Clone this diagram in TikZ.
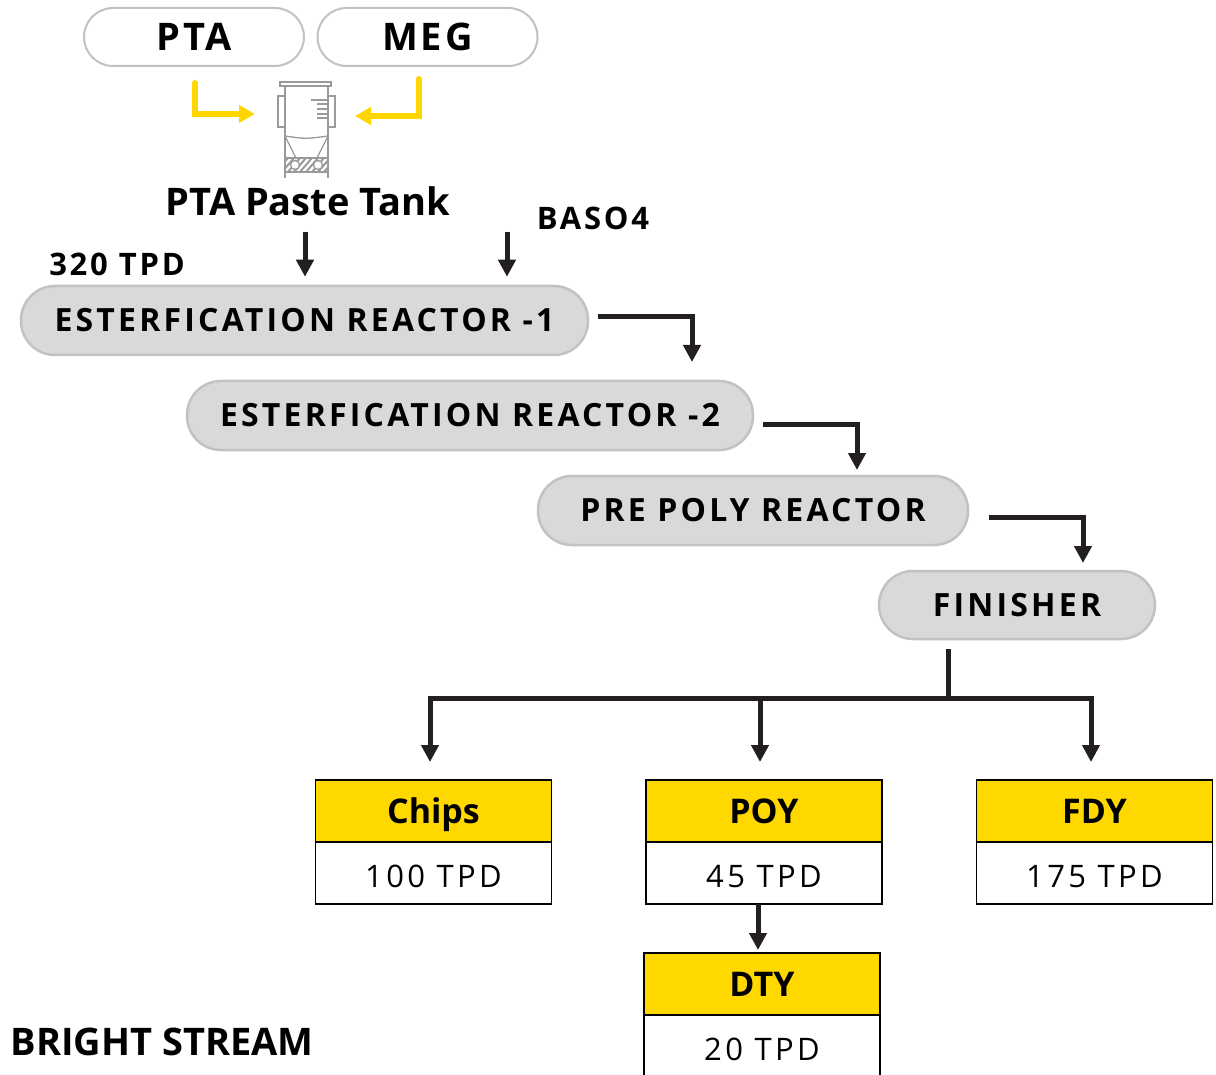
\documentclass[tikz,border=0pt]{standalone}
\usepackage{fontspec}
\setmainfont{Open Sans}
\usepackage{xcolor}
\usepackage{tikz}
\usetikzlibrary{arrows.meta,positioning}

\definecolor{pillgray}{HTML}{C2C2C2}
\definecolor{reactorgray}{HTML}{D9D9D9}
\definecolor{linedark}{HTML}{231F20}
\definecolor{feedyellow}{HTML}{FFD600}
\definecolor{prodyellow}{HTML}{FFD800}
\definecolor{tankgray}{HTML}{9A9A9A}

\begin{document}
\begin{tikzpicture}[
    x=1pt, y=-1pt,
    source/.style={rectangle, draw=pillgray, line width=2pt, fill=white, rounded corners=29pt, minimum width=220pt, minimum height=58pt, font=\bfseries\fontsize{38}{44}\selectfont\addfontfeature{LetterSpace=8}},
    reactor/.style={rectangle, draw=pillgray, line width=2.5pt, fill=reactorgray, rounded corners=34pt, minimum height=69pt, font=\bfseries\fontsize{32}{38}\selectfont\addfontfeature{LetterSpace=10}},
    head/.style={rectangle, draw=black, line width=1.2pt, outer sep=0pt, fill=prodyellow, minimum width=236pt, minimum height=62pt, text height=24.3pt, text depth=0pt, font=\bfseries\fontsize{34}{40}\selectfont},
    value/.style={rectangle, draw=black, line width=1.2pt, outer sep=0pt, fill=white, minimum width=236pt, minimum height=62pt, text height=28pt, text depth=0pt, font=\fontsize{31}{36}\selectfont\addfontfeature{LetterSpace=11}},
    tag/.style={font=\bfseries\fontsize{31}{36}\selectfont\addfontfeature{LetterSpace=9}},
    line/.style={draw=linedark, line width=5pt, -{Triangle[length=17pt,width=17pt]}},
    bar/.style={draw=linedark, line width=5pt},
    feed/.style={draw=feedyellow, line width=6pt, line cap=round, -{Triangle[length=16pt,width=17pt]}},
    tankline/.style={draw=tankgray, line width=1.3pt}
]
\useasboundingbox (0,0) rectangle (1216,1075);

% Raw materials
\node [source] (pta) at (194,37) {PTA};
\node [source] (meg) at (427.5,37) {MEG};

% Paste tank icon
\node [minimum width=58pt, minimum height=96pt] (tank) at (306,130) {};
\draw [tankline] (280,82) rectangle (331,86);
\draw [tankline] (285,86) -- (285,178) (328,86) -- (328,178);
\draw [tankline] (285,96) -- (278,96) -- (278,127) -- (285,127);
\draw [tankline] (328,96) -- (335,96) -- (335,127) -- (328,127);
\draw [tankline, line width=2pt] (311,100) -- (328,100);
\foreach \y in {104,109,114,118}
    \draw [tankline, line width=2pt] (317,\y) -- (328,\y);
\draw [tankline] (285,136) .. controls (306,139) .. (328,136);
\draw [tankline] (285,136) -- (296,158) (328,136) -- (317,158);
\begin{scope}
    \clip (285,158) rectangle (328,172);
    \foreach \x in {276,282,...,334}
        \draw [tankline, line width=2pt] (\x,172) -- (\x+12,158);
\end{scope}
\draw [tankline] (285,158) rectangle (328,172);
\draw [tankline, fill=white] (295,165) circle (4.5) (318,165) circle (4.5);
\node [font=\bfseries\fontsize{38}{44}\selectfont] (paste) at (308,201) {PTA Paste Tank};

% Feeds into the tank
\coordinate (feedL) at (255,114);
\coordinate (feedR) at (355,116);
\path [feed] ([xshift=1pt,yshift=-16pt]pta.south) |- (feedL);
\path [feed] ([xshift=-8.5pt,yshift=-12pt]meg.south) |- (feedR);

% Inputs to reactor 1
\node [tag] (baso) at (593,218) {BASO4};
\node [tag] (rate) at (117,264) {320 TPD};

% Reactors
\node [reactor, minimum width=567pt] (er1) at (304.5,320.5) {ESTERFICATION REACTOR -1};
\node [reactor, minimum width=566pt] (er2) at (470,415.5) {ESTERFICATION REACTOR -2};
\node [reactor, minimum width=430pt] (prepoly) at (753,510.5) {PRE POLY REACTOR};
\node [reactor, minimum width=276pt, minimum height=68pt] (fin) at (1017,605) {FINISHER};

% Products
\node [head] (chips) at (433.5,811) {Chips};
\node [value, below=0pt of chips] (chipsv) {100 TPD};
\node [head] (poy) at (764,811) {POY};
\node [value, below=0pt of poy] (poyv) {45 TPD};
\node [head] (fdy) at (1094.5,811) {FDY};
\node [value, below=0pt of fdy] (fdyv) {175 TPD};
\node [head] (dty) at (762,984) {DTY};
\node [value, below=0pt of dty] (dtyv) {20 TPD};

\node [font=\bfseries\fontsize{38}{44}\selectfont] (stream) at (162,1042) {BRIGHT STREAM};

% Connections
\coordinate (pIn) at (305,232);
\coordinate (bIn) at (507,232);
\path [line, shorten >=8pt] (pIn) -- (pIn |- er1.north);
\path [line, shorten >=8pt] (bIn) -- (bIn |- er1.north);
\coordinate (t1) at (692,362);
\coordinate (t2) at (857,470);
\coordinate (t3) at (1083,563);
\path [line] ([xshift=9pt,yshift=3.5pt]er1.east) -| (t1);
\path [line] ([xshift=9pt,yshift=-8.5pt]er2.east) -| (t2);
\path [line] ([xshift=20pt,yshift=-6.5pt]prepoly.east) -| (t3);
\coordinate (split) at (948,698);
\path [bar] ([yshift=-9pt]fin.south -| split) -- (split);
\path [line, shorten >=18pt] (split) -| ([xshift=-3.5pt]chips.north);
\path [line, shorten >=18pt] (split) -| ([xshift=-4pt]poy.north);
\path [line, shorten >=18pt] (split) -| ([xshift=-3.5pt]fdy.north);
\path [line, shorten >=3pt] ([xshift=-6pt]poyv.south) -- ([xshift=-6pt]poyv.south |- dty.north);
\end{tikzpicture}
\end{document}
